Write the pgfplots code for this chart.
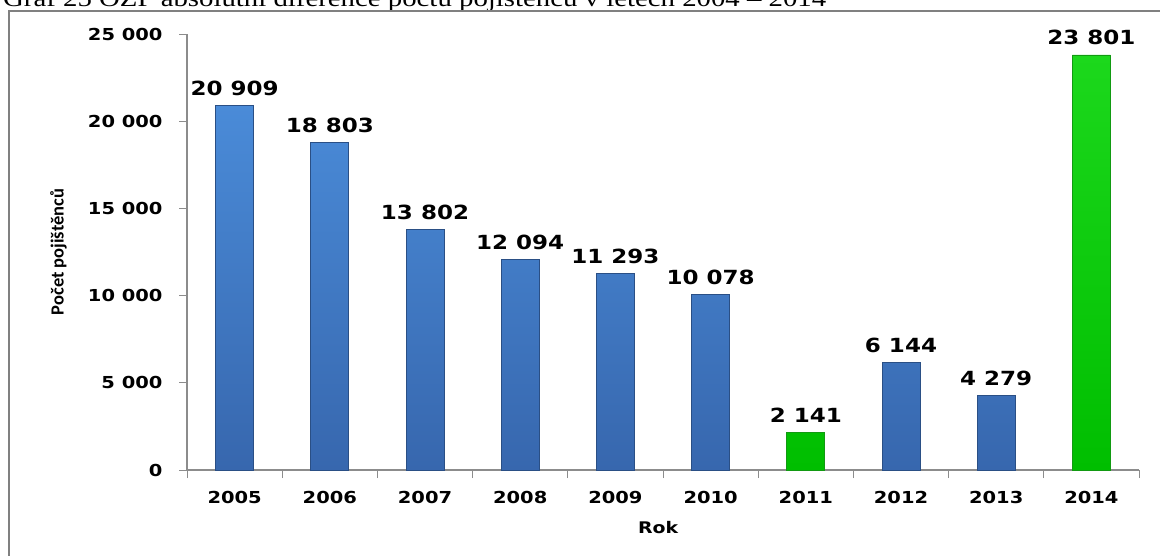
\documentclass[border=0pt]{standalone}
\usepackage{pgfplots}
\pgfplotsset{compat=1.18}
\usepackage{fontspec}
\setmainfont{Liberation Serif}
\newfontfamily\titlefont[FakeStretch=1.2]{Liberation Serif}
\newfontfamily\dvb[FakeStretch=1.18]{DejaVu Sans Bold}
\newfontfamily\carlito{Carlito}
\definecolor{axisgray}{HTML}{8C8C8C}
\definecolor{frame}{HTML}{808080}
\definecolor{btop}{HTML}{4A8BD8}
\definecolor{bbot}{HTML}{3767AE}
\definecolor{bedge}{HTML}{2A4F85}
\definecolor{gtop}{HTML}{1CD81C}
\definecolor{gbot}{HTML}{00BE00}
\definecolor{gedge}{HTML}{129A12}
\begin{document}
\begin{tikzpicture}[x=1pt,y=1pt]
\useasboundingbox (0,-556) rectangle (1160,0);
\node[anchor=base west, inner sep=0, font=\titlefont\fontsize{24}{28}\selectfont] at (3,-7) {Graf 25 OZP absolutní diference počtu pojištěnců v letech 2004 – 2014};
\draw[frame, line width=2] (9,-620) -- (9,-11) -- (1220,-11);
\begin{axis}[
  at={(187pt,-470pt)}, anchor=south west,
  scale only axis, width=952pt, height=436pt,
  xmin=-0.5, xmax=9.5, ymin=0, ymax=25000,
  axis x line=bottom, axis y line=left,
  axis line style={-, draw=axisgray, line width=1.3pt},
  xtick={-0.5,0.5,...,9.5},
  x tick label as interval,
  xticklabels={2005,2006,2007,2008,2009,2010,2011,2012,2013,2014},
  ytick={0,5000,10000,15000,20000,25000},
  yticklabels={0,5 000,10 000,15 000,20 000,25 000},
  scaled y ticks=false,
  tick align=outside, major tick length=8pt,
  tick style={draw=axisgray, line width=1pt},
  ticklabel style={font=\dvb\fontsize{16.5}{20}\selectfont, text=black},
  xticklabel style={yshift=-10pt},
  yticklabel style={xshift=-13pt},
  xlabel={Rok}, ylabel={Počet pojištěnců},
  xlabel style={at={(axis description cs:0.495,-0.131)}, anchor=center, font=\dvb\fontsize{16}{20}\selectfont},
  ylabel style={at={(axis description cs:-0.135,0.5)}, anchor=center, rotate=0, font=\carlito\bfseries\fontsize{18.5}{20}\selectfont},
  ybar, bar width=38pt, bar shift=0pt,
  nodes near coords, point meta=explicit symbolic,
  every node near coord/.append style={font=\dvb\fontsize{19.5}{22}\selectfont, text=black, anchor=south, yshift=6pt},
  clip=false,
]
\addplot[draw=bedge, line width=0.8pt, top color=btop, bottom color=bbot] coordinates {
  (0,20909) [20 909]
  (1,18803) [18 803]
  (2,13802) [13 802]
  (3,12094) [12 094]
  (4,11293) [11 293]
  (5,10078) [10 078]
  (7,6144) [6 144]
  (8,4279) [4 279]
};
\addplot[draw=gedge, line width=0.8pt, top color=gtop, bottom color=gbot] coordinates {
  (6,2141) [2 141]
  (9,23801) [23 801]
};
\end{axis}
\end{tikzpicture}
\end{document}
